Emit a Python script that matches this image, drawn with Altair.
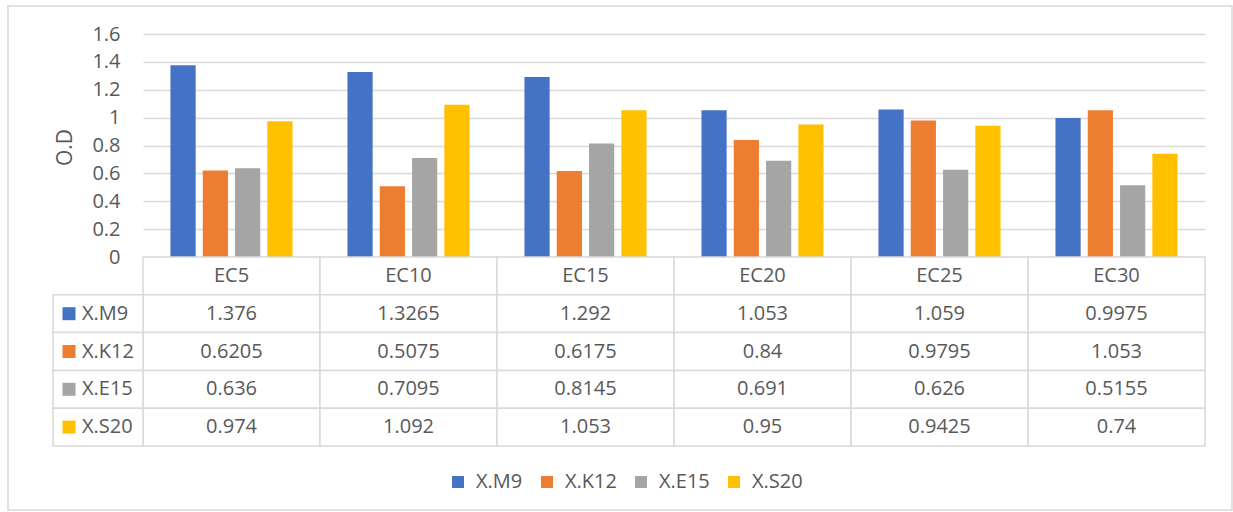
import altair as alt
import pandas as pd

# Data
categories = ["EC5", "EC10", "EC15", "EC20", "EC25", "EC30"]
series = ["X.M9", "X.K12", "X.E15", "X.S20"]
xm9 = [1.376, 1.3265, 1.292, 1.053, 1.059, 0.9975]
xk12 = [0.6205, 0.5075, 0.6175, 0.84, 0.9795, 1.053]
xe15 = [0.636, 0.7095, 0.8145, 0.691, 0.626, 0.5155]
xs20 = [0.974, 1.092, 1.053, 0.95, 0.9425, 0.74]
colors = ["#4472C4", "#ED7D31", "#A5A5A5", "#FFC000"]
y_ticks = [0, 0.2, 0.4, 0.6, 0.8, 1, 1.2, 1.4, 1.6]
y_title = "O.D"

values_by_series = dict(zip(series, [xm9, xk12, xe15, xs20]))

# Layout constants (pixels)
W = 1062          # plot / table width
PH = 223          # bar plot height
TH = 412          # bar plot + data table height
LABEL_COL = 90    # width of the series-name column of the table
FONT = "Open Sans"
TXT = "#595959"
LINE = "#D9D9D9"

bars_df = pd.DataFrame(
    [{"cat": c, "series": s, "value": v}
     for s in series for c, v in zip(categories, values_by_series[s])]
)

rows = ["hdr"] + series
cells = [{"cat": c, "row": "hdr", "text": c} for c in categories]
for s in series:
    cells += [{"cat": c, "row": s, "text": str(v)}
              for c, v in zip(categories, values_by_series[s])]
cells_df = pd.DataFrame(cells)

labels_df = pd.DataFrame({
    "col": ["lbl"] * len(series), "key": ["key"] * len(series),
    "row": series, "series": series,
})

x_cat = alt.X(
    "cat:N", sort=categories, axis=None,
    scale=alt.Scale(domain=categories, range=[0, W], paddingInner=0, paddingOuter=0),
)
y_row = alt.Y(
    "row:N", sort=rows, axis=None,
    scale=alt.Scale(domain=rows, range=[PH, TH], paddingInner=0, paddingOuter=0),
)
x_lbl = alt.X(
    "col:N", axis=None,
    scale=alt.Scale(domain=["lbl"], range=[-LABEL_COL, 0], paddingInner=0, paddingOuter=0),
)
# small slot inside the name column that holds each series' colour key
x_key = alt.X(
    "key:N", axis=None,
    scale=alt.Scale(domain=["key"], range=[-81, -67], paddingInner=0, paddingOuter=0),
)
color_scale = alt.Scale(domain=series, range=colors)

# Outer chart frame
frame = alt.Chart(pd.DataFrame({"k": [0]})).mark_rect(
    fillOpacity=0, stroke=LINE, strokeWidth=1.5
).encode(
    x=alt.value(-135), x2=alt.value(1089), y=alt.value(-28), y2=alt.value(476)
)

bars = alt.Chart(bars_df).mark_bar().encode(
    x=x_cat,
    xOffset=alt.XOffset(
        "series:N", sort=series,
        scale=alt.Scale(domain=series, paddingInner=0.22, paddingOuter=0.85),
    ),
    y=alt.Y(
        "value:Q",
        scale=alt.Scale(domain=[0, 1.6], range=[PH, 0], nice=False, zero=True),
        axis=alt.Axis(
            values=y_ticks, format="~g", title=y_title,
            domain=False, ticks=False, grid=True,
            gridColor=LINE, gridWidth=1.5,
            labelFont=FONT, labelFontSize=20, labelColor=TXT, labelPadding=23,
            titleFont=FONT, titleFontSize=21, titleColor=TXT, titleFontWeight="normal",
            titleAngle=270, titleAlign="center", titleBaseline="middle",
            titleX=-78, titleY=113,
        ),
    ),
    color=alt.Color(
        "series:N", scale=color_scale,
        legend=alt.Legend(
            orient="none", legendX=305, legendY=438, direction="horizontal",
            title=None, symbolType="square", symbolSize=144, symbolStrokeWidth=0,
            labelFont=FONT, labelFontSize=20, labelColor=TXT, labelOffset=8,
            columnPadding=14,
        ),
    ),
)

table_cells = alt.Chart(cells_df).mark_rect(
    fill="white", stroke=LINE, strokeWidth=1.5
).encode(x=x_cat, y=y_row)

table_text = alt.Chart(cells_df).mark_text(
    font=FONT, fontSize=20, color=TXT, baseline="middle"
).encode(x=x_cat, y=y_row, text="text:N")

label_cells = alt.Chart(labels_df).mark_rect(
    fill="white", stroke=LINE, strokeWidth=1.5
).encode(x=x_lbl, y=y_row)

label_text = alt.Chart(labels_df).mark_text(
    font=FONT, fontSize=20, color=TXT, baseline="middle", align="left", dx=-16
).encode(x=x_lbl, y=y_row, text="series:N")

label_keys = alt.Chart(labels_df).mark_square(size=169, opacity=1).encode(
    x=x_key, y=y_row,
    color=alt.Color("series:N", scale=color_scale, legend=None),
)

chart = alt.layer(
    frame, bars, table_cells, table_text, label_cells, label_text, label_keys
).resolve_scale(
    x="independent", y="independent"
).properties(
    width=W, height=TH,
    autosize=alt.AutoSizeParams(type="none"),
    padding={"left": 143, "top": 34, "right": 28, "bottom": 66},
    background="white",
).configure_view(stroke=None)

chart.save("out.html", embed_options={"renderer": "svg", "actions": False})
